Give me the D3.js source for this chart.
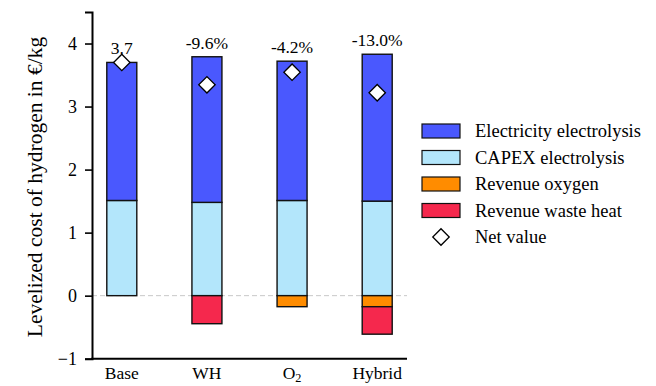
<!DOCTYPE html>
<html>
<head>
<meta charset="utf-8">
<script src="https://cdn.jsdelivr.net/npm/d3@7"></script>
<style>
  html, body { margin: 0; padding: 0; background: #fff; }
  svg text { font-family: "Liberation Serif", "Times New Roman", Times, serif; }
</style>
</head>
<body>
<svg id="chart" width="656" height="386"></svg>
<script>
// Scenarios on the x axis
const categories = ["Base", "WH", "O2", "Hybrid"];

// Cost components in €/kg (positive = cost, negative = revenue)
const capex = [1.51, 1.48, 1.51, 1.50];
const electricity = [2.19, 2.31, 2.21, 2.33];
const oxygen = [0, 0, -0.175, -0.175];
const wasteHeat = [0, -0.445, 0, -0.436];

// Labels above each bar
const topLabels = ["3.7", "-9.6%", "-4.2%", "-13.0%"];

// Y axis ticks
const yTicks = [-1, 0, 1, 2, 3, 4];

const seriesNames = ["Electricity electrolysis", "CAPEX electrolysis", "Revenue oxygen", "Revenue waste heat"];
const seriesColors = ["#4a58fe", "#b3e6fb", "#ff8c00", "#f5284d"];

const FONT = "Liberation Serif, Times New Roman, serif";
const svg = d3.select("#chart").attr("font-family", FONT);
const fontSize = 17.5;

const x = d3.scalePoint().domain(categories).range([92, 407]).padding(0.35);
const y = d3.scaleLinear().domain([-1, 4.5]).range([358.7, 12]);
const barW = 30;

// Build stacked segments for each category
const segments = [];
const net = [];
categories.forEach((c, i) => {
  // positive stack: capex at bottom, electricity on top
  segments.push({ c, y0: 0, y1: capex[i], color: seriesColors[1] });
  segments.push({ c, y0: capex[i], y1: capex[i] + electricity[i], color: seriesColors[0] });
  // negative stack: oxygen first below zero, then waste heat
  let base = 0;
  if (oxygen[i] !== 0) {
    segments.push({ c, y0: base, y1: base + oxygen[i], color: seriesColors[2] });
    base += oxygen[i];
  }
  if (wasteHeat[i] !== 0) {
    segments.push({ c, y0: base, y1: base + wasteHeat[i], color: seriesColors[3] });
    base += wasteHeat[i];
  }
  net.push(capex[i] + electricity[i] + oxygen[i] + wasteHeat[i]);
});

// Zero reference line
svg.append("line")
  .attr("x1", 92).attr("x2", 407)
  .attr("y1", y(0)).attr("y2", y(0))
  .attr("stroke", "#c8c8c8").attr("stroke-width", 1)
  .attr("stroke-dasharray", "5,3");

// Bars
svg.append("g").selectAll("rect").data(segments).join("rect")
  .attr("x", d => x(d.c) - barW / 2)
  .attr("width", barW)
  .attr("y", d => y(Math.max(d.y0, d.y1)))
  .attr("height", d => Math.abs(y(d.y0) - y(d.y1)))
  .attr("fill", d => d.color)
  .attr("stroke", "#111")
  .attr("stroke-width", 1.4);

// Net value diamonds
const diamond = d3.symbol().type(d3.symbolSquare).size(135);
svg.append("g").selectAll("path").data(categories).join("path")
  .attr("d", diamond)
  .attr("transform", (c, i) => `translate(${x(c)},${y(net[i])}) rotate(45)`)
  .attr("fill", "#fff")
  .attr("stroke", "#000")
  .attr("stroke-width", 1.3);

// Value labels above bars
svg.append("g").selectAll("text").data(categories).join("text")
  .attr("x", c => x(c))
  .attr("y", (c, i) => y(capex[i] + electricity[i]) - 8)
  .attr("text-anchor", "middle")
  .attr("font-family", FONT)
  .attr("font-size", fontSize)
  .text((c, i) => topLabels[i]);

// Y axis
const yAxis = svg.append("g").attr("transform", "translate(92,0)")
  .call(d3.axisLeft(y).tickValues(yTicks).tickSize(7).tickPadding(8)
    .tickFormat(d => d < 0 ? "\u2212" + Math.abs(d) : d));
yAxis.attr("font-family", FONT).attr("font-size", fontSize);
yAxis.select(".domain").attr("stroke", "#000").attr("stroke-width", 2);
yAxis.selectAll(".tick line").attr("stroke", "#000").attr("stroke-width", 1.6);
yAxis.selectAll(".tick text").attr("font-size", 18).attr("font-family", FONT).attr("fill", "#000");

// X axis baseline
svg.append("line")
  .attr("x1", 91).attr("x2", 407)
  .attr("y1", y(-1)).attr("y2", y(-1))
  .attr("stroke", "#000").attr("stroke-width", 2);

// Category labels
const xl = svg.append("g").selectAll("text").data(categories).join("text")
  .attr("x", c => x(c))
  .attr("y", 379)
  .attr("text-anchor", "middle")
  .attr("font-family", FONT)
  .attr("font-size", fontSize);
xl.each(function(c) {
  const t = d3.select(this);
  if (c === "O2") {
    t.append("tspan").text("O");
    t.append("tspan").attr("font-size", fontSize * 0.7).attr("dy", 3).text("2");
  } else {
    t.text(c);
  }
});

// Y axis title
svg.append("text")
  .attr("transform", `translate(42,187) rotate(-90)`)
  .attr("text-anchor", "middle")
  .attr("font-family", FONT)
  .attr("font-size", 21.5)
  .text("Levelized cost of hydrogen in €/kg");

// Legend
const legend = svg.append("g").attr("transform", "translate(422,131)");
const rowH = 26.5;
seriesNames.forEach((name, i) => {
  const g = legend.append("g").attr("transform", `translate(0,${i * rowH})`);
  g.append("rect").attr("x", 0).attr("y", -7).attr("width", 38).attr("height", 14)
    .attr("fill", seriesColors[i]).attr("stroke", "#111").attr("stroke-width", 1.2);
  g.append("text").attr("x", 53).attr("y", 6).attr("font-family", FONT)
    .attr("font-size", 18.5).text(name);
});
const gNet = legend.append("g").attr("transform", `translate(0,${4 * rowH})`);
gNet.append("path").attr("d", diamond)
  .attr("transform", "translate(19,0) rotate(45)")
  .attr("fill", "#fff").attr("stroke", "#000").attr("stroke-width", 1.3);
gNet.append("text").attr("x", 53).attr("y", 6).attr("font-family", FONT)
  .attr("font-size", 18.5).text("Net value");
</script>
</body>
</html>
